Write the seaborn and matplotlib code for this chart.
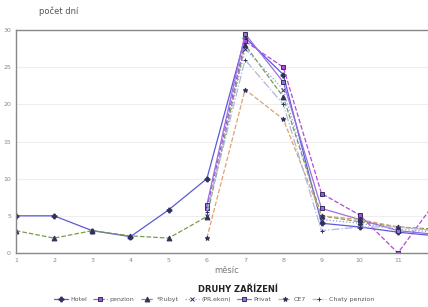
# Počet dní podle měsíce a druhu zařízení
import numpy as np
import pandas as pd
import matplotlib
matplotlib.use("Agg")
import matplotlib.pyplot as plt
import seaborn as sns

# ------------------------------------------------------------
# Data
# ------------------------------------------------------------
months = list(range(1, 13))
tick_months = list(range(1, 12))
types = ["Hotel", "penzion", "*P.ubyt", "(PR.ekon)", "Privat", "CE7", "Chaty penzion"]

hotel = [5, 5, 3, 2.2, 5.8, 10, 29, 24, 4, 3.5, 2.8, 2.3]
penzion = [np.nan, np.nan, np.nan, np.nan, np.nan, 6, 28.5, 25, 8, 5.1, 0, 7]
p_ubyt = [3, 2, 3, 2.3, 2, 4.9, 28, 21, 5, 4.2, 3.5, 3.2]
pr_ekon = [np.nan, np.nan, np.nan, np.nan, np.nan, 5, 27.5, 22, 4.5, 4, 3.2, 2.8]
privat = [np.nan, np.nan, np.nan, np.nan, np.nan, 6.5, 29.5, 23, 6, 4.5, 3, 2.5]
ce7 = [np.nan, np.nan, np.nan, np.nan, np.nan, 2, 22, 18, 5, 4.5, 3.5, 3]
chaty = [np.nan, np.nan, np.nan, np.nan, np.nan, 5.5, 26, 20, 3, 3.5, 3.5, 3]

series = [hotel, penzion, p_ubyt, pr_ekon, privat, ce7, chaty]

# ------------------------------------------------------------
# Styles
# ------------------------------------------------------------
colors = ["#5a5ad6", "#b04ad8", "#7a9a50", "#8a9ae8", "#9a70e0", "#e0a070", "#b0b8d8"]
marker_list = ["P", "s", "^", "x", "s", "*", "+"]
dash_list = ["-", "--", "--", ":", "-", "--", "-."]

sns.set_style("white")
plt.rcParams["font.family"] = ["DejaVu Sans"]

fig = plt.figure(figsize=(4.28, 3.07), dpi=100)
ax = fig.add_axes([0.037, 0.176, 0.982, 0.726])

for name, vals, c, mk, ls in zip(types, series, colors, marker_list, dash_list):
    d = pd.DataFrame({"měsíc": months, "dny": vals})
    sns.lineplot(
        data=d, x="měsíc", y="dny", color=c, marker=mk, linestyle=ls,
        markersize=3.5, linewidth=0.9, markeredgecolor="#303060",
        markerfacecolor="#303060" if mk in ("P", "^", "*") else c,
        markeredgewidth=0.7, ax=ax, label=name,
    )

ax.set_xlim(1, 12)
ax.set_ylim(0, 30)
ax.set_xticks(tick_months)
ax.set_yticks(range(0, 31, 5))
ax.tick_params(labelsize=4.5, colors="#888888", length=2, pad=1.5)
ax.yaxis.grid(True, color="#eeeeee", linewidth=0.8)
for side in ["left", "top", "bottom"]:
    ax.spines[side].set_color("#888888")
    ax.spines[side].set_linewidth(1.0)
ax.spines["right"].set_visible(False)

ax.set_xlabel("")
ax.set_ylabel("")
fig.text(0.53, 0.112, "měsíc", fontsize=6, color="#777777", ha="center")
fig.text(0.09, 0.955, "počet dní", fontsize=6, color="#555555", ha="left")

handles, labels = ax.get_legend_handles_labels()
ax.get_legend().remove()
fig.text(0.555, 0.048, "DRUHY ZAŘÍZENÍ", fontsize=6, fontweight="bold",
         color="#222222", ha="center")
fig.legend(handles, labels, loc="center", bbox_to_anchor=(0.5, 0.025),
           ncol=7, frameon=False, fontsize=4.5, handlelength=2.2,
           columnspacing=1.0, handletextpad=0.4, labelcolor="#555555")

fig.savefig("out.png", dpi=100)
